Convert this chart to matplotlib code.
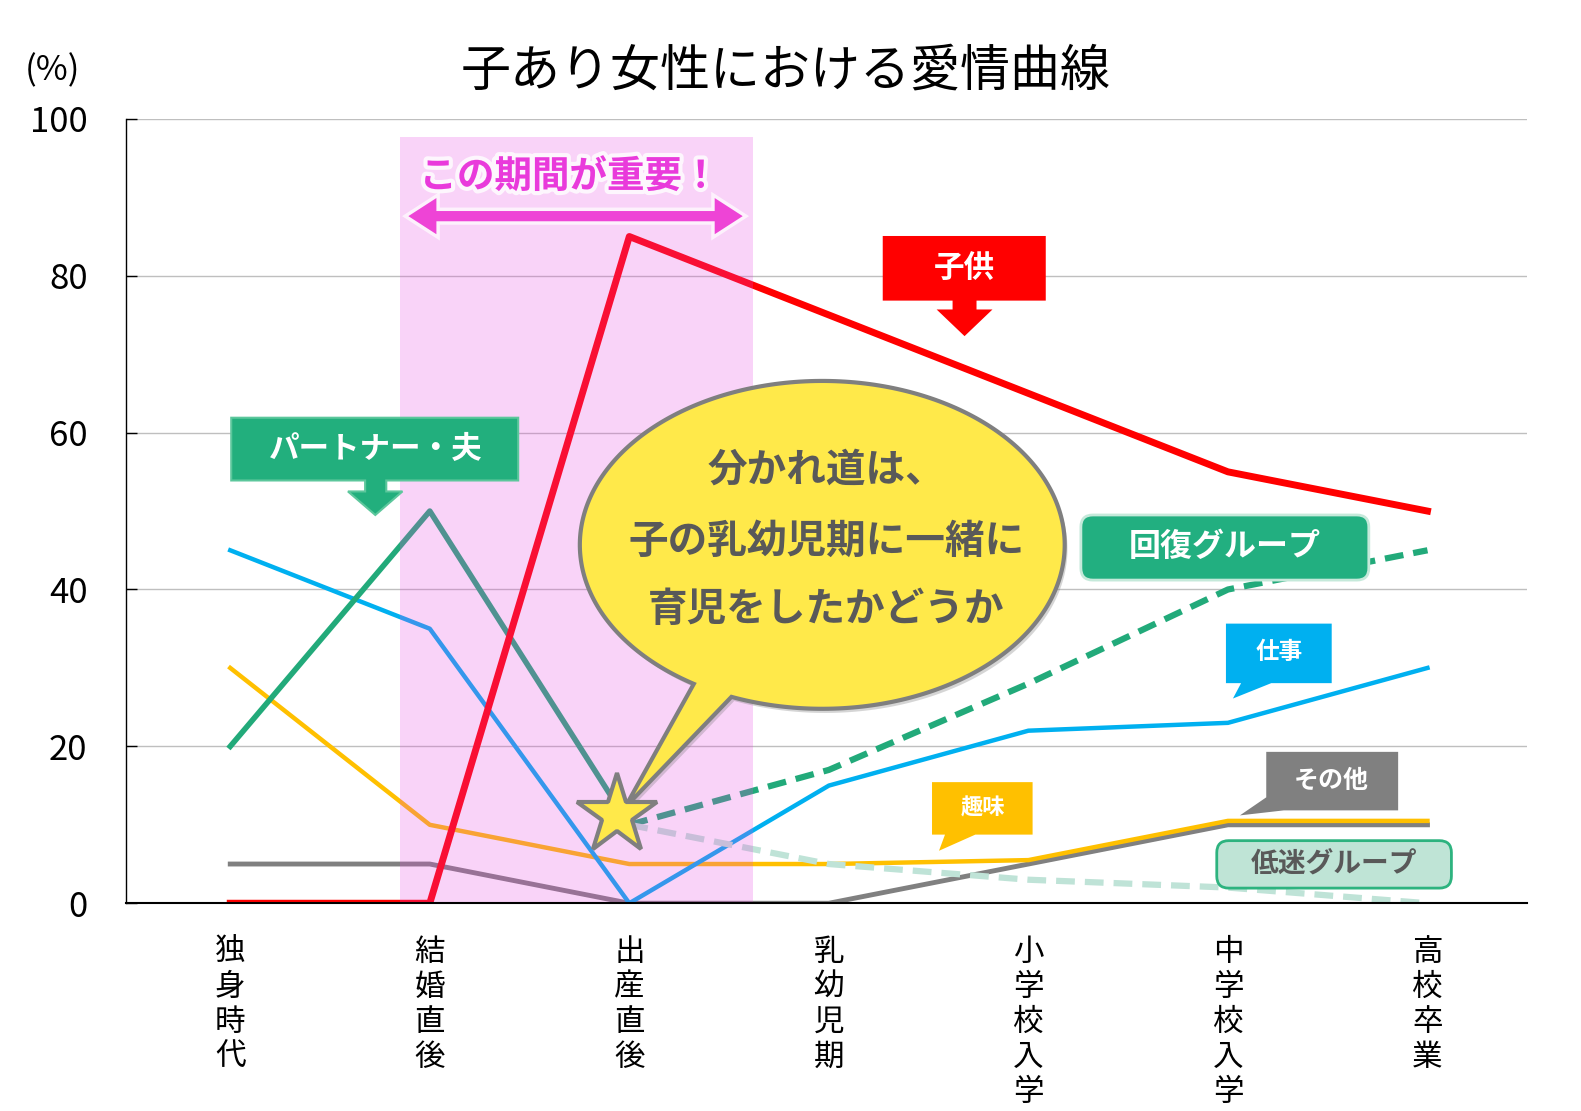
import matplotlib.pyplot as plt
import matplotlib.patches as mpatches
import matplotlib.patheffects as pe
import numpy as np

plt.rcParams['font.family'] = ['Noto Sans CJK JP', 'DejaVu Sans']

# データ
categories = ['独身時代', '結婚直後', '出産直後', '乳幼児期', '小学校入学', '中学校入学', '高校卒業']
kodomo = [0, 0, 85, 75, 65, 55, 50]
partner = [20, 50, 10]            # 独身時代〜出産直後
kaifuku = [10, 17, 28, 40, 45]    # 出産直後〜高校卒業
teimei = [10, 5, 3, 2, 0]         # 出産直後〜高校卒業
shigoto = [45, 35, 0, 15, 22, 23, 30]
shumi = [30, 10, 5, 5, 5.5, 10.5, 10.5]
sonota = [5, 5, 0, 0, 5, 10, 10]
yticks = [0, 20, 40, 60, 80, 100]

x = np.arange(len(categories))

fig = plt.figure(figsize=(15.81, 11.11), dpi=100)
ax = fig.add_axes([0.080, 0.187, 0.886, 0.706])

ax.plot(x, sonota, color='#808080', lw=3.5, zorder=3)
ax.plot(x, shumi, color='#FFC000', lw=3.2, zorder=3)
ax.plot(x, shigoto, color='#00B0F0', lw=3.2, zorder=3)
ax.plot(x[:3], partner, color='#22AA7A', lw=4, zorder=3)
ax.plot(x[2:], kaifuku, color='#22AA7A', lw=4.5, ls=(0, (3, 1.6)), zorder=3)
ax.plot(x[2:], teimei, color='#BFE3D7', lw=4.5, ls=(0, (3, 1.6)), zorder=3)
ax.plot(x, kodomo, color='#FF0000', lw=5, zorder=3)

# 重要期間の帯
ax.add_patch(mpatches.Rectangle((0.853, 0), 2.62 - 0.853, 97.7, facecolor='#E944E1',
                                alpha=0.23, lw=0, zorder=4))
ax.text(1.70, 92.7, 'この期間が重要！', color='#E93ADB', fontsize=27, fontweight='bold',
        ha='center', va='center', zorder=6,
        path_effects=[pe.withStroke(linewidth=6, foreground='white', alpha=0.8)])
xa, xb, ya = 0.893, 2.568, 87.6
hl, hw, sw = 0.14, 2.3, 0.65
arrow_pts = [(xa, ya), (xa + hl, ya + hw), (xa + hl, ya + sw), (xb - hl, ya + sw),
             (xb - hl, ya + hw), (xb, ya), (xb - hl, ya - hw), (xb - hl, ya - sw),
             (xa + hl, ya - sw), (xa + hl, ya - hw)]
ax.add_patch(mpatches.Polygon(arrow_pts, closed=True, facecolor='#EE44D6', edgecolor='none',
                              zorder=6, path_effects=[pe.withStroke(linewidth=5, foreground='white', alpha=0.7)]))


def poly(pts, fc, ec='none', lw=0, z=6):
    ax.add_patch(mpatches.Polygon(pts, closed=True, facecolor=fc, edgecolor=ec, lw=lw, zorder=z))


# 子供
poly([(3.27, 85.07), (4.087, 85.07), (4.087, 76.83), (3.74, 76.83), (3.74, 75.7), (3.82, 75.7),
      (3.68, 72.3), (3.54, 75.7), (3.62, 75.7), (3.62, 76.83), (3.27, 76.83)], '#FF0000')
ax.text(3.68, 80.95, '子供', color='white', fontsize=22, fontweight='bold', ha='center', va='center', zorder=7)

# パートナー・夫
poly([(0.005, 61.9), (1.443, 61.9), (1.443, 53.9), (0.782, 53.9), (0.782, 52.5), (0.863, 52.5),
      (0.727, 49.5), (0.59, 52.5), (0.676, 52.5), (0.676, 53.9), (0.005, 53.9)],
     '#22AF7D', ec='#5CC79C', lw=1.5)
ax.text(0.727, 57.9, 'パートナー・夫', color='white', fontsize=22, fontweight='bold',
        ha='center', va='center', zorder=7)

# 仕事
poly([(4.99, 35.65), (5.52, 35.65), (5.52, 28.06), (5.217, 28.06), (5.025, 26.1), (5.066, 28.06),
      (4.99, 28.06)], '#00B0F0')
ax.text(5.257, 32.0, '仕事', color='white', fontsize=17, fontweight='bold', ha='center', va='center', zorder=7)

# 趣味
poly([(3.517, 15.44), (4.021, 15.44), (4.021, 8.75), (3.734, 8.75), (3.552, 6.69), (3.582, 8.75),
      (3.517, 8.75)], '#FFC000')
ax.text(3.77, 12.2, '趣味', color='white', fontsize=16, fontweight='bold', ha='center', va='center', zorder=7)

# その他
poly([(5.192, 19.3), (5.853, 19.3), (5.853, 11.84), (5.28, 11.84), (5.06, 11.2), (5.192, 13.5)], '#808080')
ax.text(5.52, 15.6, 'その他', color='white', fontsize=18, fontweight='bold', ha='center', va='center', zorder=7)

# グループ
asp = 25.5
ax.add_patch(mpatches.FancyBboxPatch((4.263, 41.2), 1.443, 8.3, boxstyle='round,pad=0,rounding_size=0.06',
                                     mutation_aspect=asp, facecolor='#22AF80', edgecolor='#C5E9DA',
                                     lw=2, zorder=6))
ax.text(4.985, 45.4, '回復グループ', color='white', fontsize=23, fontweight='bold',
        ha='center', va='center', zorder=7)
ax.add_patch(mpatches.FancyBboxPatch((4.944, 1.93), 1.176, 6.05, boxstyle='round,pad=0,rounding_size=0.06',
                                     mutation_aspect=asp, facecolor='#BFE4D6', edgecolor='#2DB37F',
                                     lw=2, zorder=6))
ax.text(5.53, 5.0, '低迷グループ', color='#595959', fontsize=20, fontweight='bold',
        ha='center', va='center', zorder=7)

# 吹き出し
cx, cy, ea, eb = 2.967, 45.69, 1.215, 20.9
th = np.radians(np.linspace(248, 598, 300))
bubble = [(cx + ea * np.cos(t), cy + eb * np.sin(t)) for t in th] + [(1.978, 12.2)]
ax.add_patch(mpatches.Polygon(bubble, closed=True, facecolor='#FFE94A', edgecolor='#7F7F7F', lw=3,
                              zorder=8, path_effects=[pe.SimplePatchShadow(offset=(2, -3), shadow_rgbFace='#777777',
                                                                           alpha=0.3),
                                                      pe.Normal()]))
ax.text(cx + 0.02, 55.2, '分かれ道は、', color='#595959', fontsize=28.5, fontweight='bold',
        ha='center', va='center', zorder=9)
ax.text(cx + 0.02, 46.1, '子の乳幼児期に一緒に', color='#595959', fontsize=28.5, fontweight='bold',
        ha='center', va='center', zorder=9)
ax.text(cx + 0.02, 37.4, '育児をしたかどうか', color='#595959', fontsize=28.5, fontweight='bold',
        ha='center', va='center', zorder=9)

ax.plot(x[2] - 0.06, partner[2] + 1.2, marker='*', ms=60, mfc='#FFE94A', mec='#7F7F7F',
        mew=3, zorder=10)

# 軸
ax.set_xlim(-0.52, 6.5)
ax.set_ylim(0, 100)
ax.set_yticks(yticks)
ax.set_xticks(x)
ax.set_xticklabels(['\n'.join(c) for c in categories], va='top', linespacing=1.17)
ax.tick_params(axis='x', length=0, pad=24, labelsize=22)
ax.tick_params(axis='y', direction='in', length=8, width=1, labelsize=25, pad=28)
ax.yaxis.grid(True, color='#BFBFBF', lw=1)
ax.set_axisbelow(True)
for s in ['top', 'right']:
    ax.spines[s].set_visible(False)
ax.spines['left'].set_linewidth(1)
ax.spines['bottom'].set_linewidth(1.5)
ax.spines['bottom'].set_zorder(5)

fig.text(0.497, 0.936, '子あり女性における愛情曲線', fontsize=36, ha='center', va='center')
fig.text(0.033, 0.936, '(%)', fontsize=25, ha='center', va='center')

fig.savefig('out.png', dpi=100)
